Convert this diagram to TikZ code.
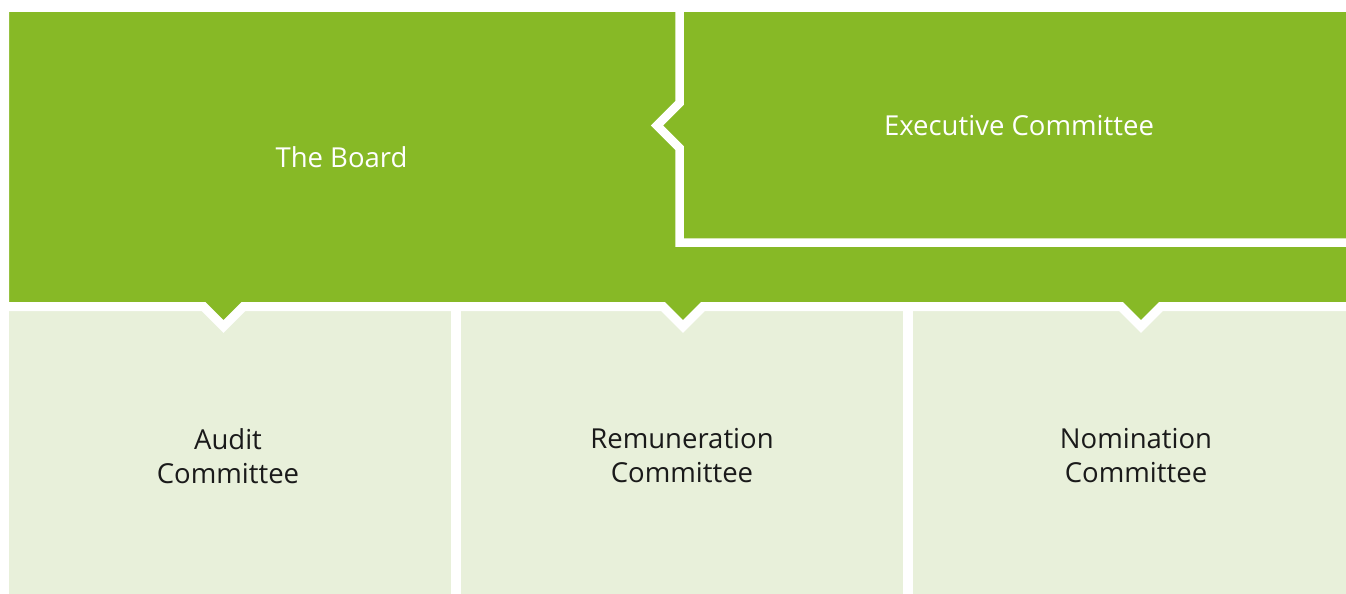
\documentclass[tikz,border=0pt]{standalone}
\usepackage{fontspec}
\setmainfont{Open Sans}
\definecolor{boardgreen}{HTML}{87B926}
\definecolor{lightgreen}{HTML}{E8F0DA}
\definecolor{textdark}{HTML}{1A1A1A}
\tikzset{
  committee/.style={fill=lightgreen, draw=none},
  sep/.style={draw=white, line width=9pt, line join=miter},
  lbl/.style={font=\fontsize{27.5}{34}\selectfont, align=center, inner sep=0pt},
  lblwhite/.style={lbl, text=white},
  lbldark/.style={lbl, text=textdark},
}
\begin{document}
\begin{tikzpicture}[x=1pt,y=-1pt]
\useasboundingbox (0,0) rectangle (1346,594);
\fill[white] (0,0) rectangle (1346,594);
% committee boxes
\fill[committee] (9,311) rectangle (451,600);
\fill[committee] (461,311) rectangle (903,600);
\fill[committee] (913,311) rectangle (1360,600);
% board shape with down notches
\path[fill=boardgreen, sep]
  (4.5,7.5) -- (1360,7.5) -- (1360,306.5)
  -- (1161,306.5) -- (1141,326.5) -- (1121,306.5)
  -- (703,306.5) -- (683,326.5) -- (663,306.5)
  -- (243.5,306.5) -- (223.5,326.5) -- (203.5,306.5)
  -- (4.5,306.5) -- cycle;
% executive committee separator
\coordinate (e1) at (679.5,0);
\coordinate (e2) at (679.5,103);
\coordinate (e3) at (657,125.5);
\coordinate (e4) at (679.5,148);
\coordinate (e5) at (679.5,242.5);
\coordinate (e6) at (1360,242.5);
\draw[draw=white, line width=8.5pt, line join=miter] (e1) -- (e2) -- (e3) -- (e4) -- (e5) -- (e6);
% labels
\node[lblwhite] (board) at (341.5,157) {The Board};
\node[lblwhite] (exec) at (1019,126) {Executive Committee};
\node[lbldark] (audit) at (228,456) {Audit\\Committee};
\node[lbldark] (remun) at (682,456) {Remuneration\\Committee};
\node[lbldark] (nom) at (1136,456) {Nomination\\Committee};
\end{tikzpicture}
\end{document}
